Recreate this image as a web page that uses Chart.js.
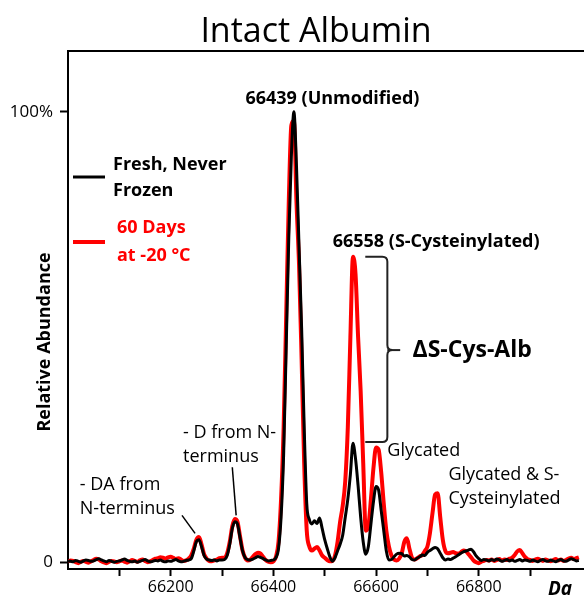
<!DOCTYPE html>
<html><head><meta charset="utf-8">
<script src="https://cdn.jsdelivr.net/npm/chart.js@4.4.1/dist/chart.umd.min.js"></script>
<style>html,body{margin:0;padding:0;background:#fff;overflow:hidden}#wrap{width:584px;height:600px;position:relative}</style>
</head><body><div id="wrap"><canvas id="c"></canvas></div>
<script>
// ---- Data (mass in Da, relative abundance in %) ----
const massDa = [
66000,66005,66010,66015,66020,66025,66030,66035,66040,66045,66050,66055,66060,66065,66070,66075,66080,66085,66090,66095,
66100,66105,66110,66115,66120,66125,66130,66135,66140,66145,66150,66155,66160,66165,66170,66175,66180,66185,66190,66195,
66200,66205,66210,66215,66220,66225,66230,66235,66240,66245,66250,66255,66260,66265,66270,66275,66280,66285,66290,66295,
66300,66305,66310,66315,66320,66325,66330,66335,66340,66345,66350,66355,66360,66365,66370,66375,66380,66385,66390,66395,
66400,66405,66410,66415,66420,66425,66430,66435,66440,66445,66450,66455,66460,66465,66470,66475,66480,66485,66490,66495,
66500,66505,66510,66515,66520,66525,66530,66535,66540,66545,66550,66555,66560,66565,66570,66575,66580,66585,66590,66595,
66600,66605,66610,66615,66620,66625,66630,66635,66640,66645,66650,66655,66660,66665,66670,66675,66680,66685,66690,66695,
66700,66705,66710,66715,66720,66725,66730,66735,66740,66745,66750,66755,66760,66765,66770,66775,66780,66785,66790,66795,
66800,66805,66810,66815,66820,66825,66830,66835,66840,66845,66850,66855,66860,66865,66870,66875,66880,66885,66890,66895,
66900,66905,66910,66915,66920,66925,66930,66935,66940,66945,66950,66955,66960,66965,66970,66975,66980,66985,66990,66995
];
const freshNeverFrozen = [
0.3,0.2,0.1,0.4,0.2,0.0,0.3,0.5,0.4,0.2,0.3,0.6,0.8,0.5,0.3,0.1,0.4,0.2,0.0,0.2,
0.3,0.5,0.7,0.4,0.2,0.1,0.3,0.0,0.2,0.4,0.6,0.3,0.1,0.2,0.4,0.3,0.5,0.2,0.1,0.3,
0.2,0.4,0.6,0.3,0.1,0.2,0.4,0.5,0.8,2.5,4.6,5.0,3.5,1.5,0.7,0.5,0.4,0.5,0.3,0.5,
0.5,0.6,1.5,4.0,7.5,9.0,8.5,5.5,2.5,1.0,0.6,0.5,0.7,1.0,1.3,1.1,0.8,0.5,0.3,0.4,
0.5,1.0,3.0,10,24,48,72,90,100,88,70,52,30,13,9.5,8.5,9.2,8.6,9.8,7.5,
5.0,3.0,1.2,0.2,1.0,2.5,4.0,6.0,10,14,19.5,26.4,23,17,10,4.5,1.8,3.5,8.5,13.5,
16.8,16,11.5,7,2.5,0.5,0.6,1.2,1.8,2.0,1.9,1.4,1.5,1.2,0.6,0.5,0.9,1.2,1.6,1.5,
2.2,2.6,3.0,3.3,3.0,2.0,1.0,0.5,0.7,0.6,0.9,1.2,1.6,2.0,2.3,2.5,2.7,2.9,2.3,1.4,
0.8,0.4,0.6,0.5,0.3,0.6,0.4,0.7,0.5,0.2,0.4,0.6,0.3,0.5,0.2,0.4,0.6,0.3,0.5,0.4,
0.2,0.5,0.3,0.1,0.4,0.6,0.3,0.2,0.5,0.3,0.1,0.4,0.6,0.3,0.2,0.5,0.8,0.6,0.3,0.4
];
const days60Minus20C = [
0.2,0.4,0.3,0.0,-0.2,0.1,0.3,0.1,-0.1,0.2,0.5,0.8,0.6,0.2,0.0,-0.2,0.1,0.3,0.2,0.0,
0.2,0.4,0.1,-0.1,0.2,0.5,0.3,0.1,0.4,0.6,0.3,0.0,0.2,0.5,0.8,0.9,1.1,1.0,0.8,1.1,
1.2,1.0,0.7,0.9,0.6,0.3,0.4,0.8,1.5,3.0,5.0,5.6,4.0,1.8,0.8,0.3,0.2,0.4,0.6,0.9,
1.0,1.0,2.0,4.5,8.0,9.6,9.0,5.8,2.6,1.0,0.4,0.6,1.2,1.8,2.1,1.9,1.2,0.5,0.1,0.0,
0.2,1.2,4.5,14,30,55,80,97,98,80,66,45,22,7,3.5,2.6,3.0,3.4,2.6,1.5,
1.0,0.5,0.2,0.3,1.5,4.5,9.0,12.5,18,30,50,67.8,64,50,38,22,7,8,14,21,
25.5,25,20,13,7,3.5,1.5,0.6,0.4,0.8,2.0,4.5,5.3,3.0,1.0,0.6,0.9,1.3,1.6,2.5,
3.5,6.5,11,15,15.3,10,5,2.5,2.0,2.1,2.3,2.0,1.9,2.2,2.6,2.4,1.8,1.1,0.4,0.0,
-0.2,0.1,0.3,0.5,0.4,0.6,0.3,0.5,0.7,0.4,0.6,0.5,0.8,1.0,1.6,2.4,2.7,2.0,1.2,0.7,
0.5,0.3,0.6,0.8,0.5,0.3,0.6,0.4,0.2,0.5,0.7,0.4,0.6,0.3,0.5,0.8,1.0,0.7,0.9,1.1
];
const seriesNames = ['Fresh, Never Frozen', '60 Days at -20 \u00B0C'];
const xTickValues = [66100,66200,66300,66400,66500,66600,66700,66800,66900];
const xTickLabels = ['', '66200', '', '66400', '', '66600', '', '66800', ''];
const yTickValues = [0, 100];
const yTickLabels = ['0', '100%'];

// ---- Annotations (in data units) ----
const textNotes = [
  {lines:['66439 (Unmodified)'], x:66515, y:102.9, bold:true, align:'center'},
  {lines:['66558 (S-Cysteinylated)'], x:66717, y:71.1, bold:true, align:'center'},
  {lines:['Glycated'], x:66622, y:24.7, bold:false, align:'left'},
  {lines:['Glycated & S-','Cysteinylated'], x:66741, y:19.3, bold:false, align:'left'},
  {lines:['- D from N-','terminus'], x:66224, y:28.7, bold:false, align:'left'},
  {lines:['- DA from','N-terminus'], x:66023, y:17.1, bold:false, align:'left'}
];
const leaders = [
  {x1:66320, y1:21.1, x2:66327.5, y2:10.4},
  {x1:66222, y1:10.4, x2:66247.5, y2:6.4}
];
const bracket = {x1:66579, xv:66622, xn:66647, yt:67.8, ym:47.1, yb:26.7, label:'\u0394S-Cys-Alb', labelX:66671};

const FONT = "'Open Sans', 'Liberation Sans', sans-serif";
Chart.defaults.font.family = FONT;
Chart.defaults.color = '#000';

const deco = {
  id: 'deco',
  afterDraw(chart) {
    const {ctx, chartArea: a, scales: {x, y}} = chart;
    ctx.save();
    // top border of plot frame
    ctx.strokeStyle = '#000'; ctx.lineWidth = 2;
    ctx.beginPath(); ctx.moveTo(a.left - 1, a.top); ctx.lineTo(a.right, a.top); ctx.stroke();

    // title
    ctx.fillStyle = '#000';
    ctx.font = `34px ${FONT}`;
    ctx.textAlign = 'center'; ctx.textBaseline = 'alphabetic';
    ctx.fillText('Intact Albumin', 316, 42);

    // y-axis title
    ctx.save();
    ctx.translate(45, 342); ctx.rotate(-Math.PI / 2);
    ctx.font = `bold 18px ${FONT}`; ctx.textBaseline = 'middle'; ctx.textAlign = 'center';
    ctx.fillText('Relative Abundance', 0, 0);
    ctx.restore();

    // x unit
    ctx.font = `italic bold 19px ${FONT}`; ctx.textAlign = 'left'; ctx.textBaseline = 'middle';
    ctx.fillText('Da', 548, 590);

    // legend
    ctx.lineWidth = 3; ctx.strokeStyle = '#000';
    ctx.beginPath(); ctx.moveTo(73, 177); ctx.lineTo(105, 177); ctx.stroke();
    ctx.lineWidth = 4; ctx.strokeStyle = '#ff0000';
    ctx.beginPath(); ctx.moveTo(73, 242); ctx.lineTo(105, 242); ctx.stroke();
    ctx.font = `bold 18px ${FONT}`; ctx.textAlign = 'left'; ctx.textBaseline = 'middle';
    ctx.fillStyle = '#000';
    ctx.fillText('Fresh, Never', 113, 165);
    ctx.fillText('Frozen', 113, 191);
    ctx.fillStyle = '#ff0000';
    ctx.fillText('60 Days', 117, 228);
    ctx.fillText('at -20 \u00B0C', 117, 256);

    // text notes
    ctx.fillStyle = '#000';
    textNotes.forEach(n => {
      ctx.font = (n.bold ? 'bold ' : '') + `18px ${FONT}`;
      ctx.textAlign = n.align; ctx.textBaseline = 'middle';
      const px = x.getPixelForValue(n.x), py = y.getPixelForValue(n.y);
      n.lines.forEach((t, i) => ctx.fillText(t, px, py + i * 24));
    });

    // leader lines
    ctx.strokeStyle = '#000'; ctx.lineWidth = 1.5;
    leaders.forEach(l => {
      ctx.beginPath();
      ctx.moveTo(x.getPixelForValue(l.x1), y.getPixelForValue(l.y1));
      ctx.lineTo(x.getPixelForValue(l.x2), y.getPixelForValue(l.y2));
      ctx.stroke();
    });

    // bracket
    const bx1 = x.getPixelForValue(bracket.x1), bxv = x.getPixelForValue(bracket.xv), bxn = x.getPixelForValue(bracket.xn);
    const byt = y.getPixelForValue(bracket.yt), bym = y.getPixelForValue(bracket.ym), byb = y.getPixelForValue(bracket.yb);
    const r = 5;
    ctx.strokeStyle = '#222'; ctx.lineWidth = 2;
    ctx.beginPath();
    ctx.moveTo(bx1, byt); ctx.lineTo(bxv - r, byt); ctx.quadraticCurveTo(bxv, byt, bxv, byt + r);
    ctx.lineTo(bxv, bym - r); ctx.quadraticCurveTo(bxv, bym, bxv + r, bym);
    ctx.quadraticCurveTo(bxv, bym, bxv, bym + r);
    ctx.lineTo(bxv, byb - r); ctx.quadraticCurveTo(bxv, byb, bxv - r, byb); ctx.lineTo(bx1, byb);
    ctx.stroke();
    ctx.beginPath(); ctx.moveTo(bxv, bym); ctx.lineTo(bxn, bym); ctx.stroke();
    ctx.fillStyle = '#000';
    ctx.font = `bold 23px ${FONT}`; ctx.textAlign = 'left'; ctx.textBaseline = 'middle';
    ctx.fillText(bracket.label, x.getPixelForValue(bracket.labelX), bym);
    ctx.restore();
  }
};

const toXY = arr => arr.map((v, i) => ({x: massDa[i], y: v}));

new Chart(document.getElementById('c'), {
  type: 'line',
  data: {
    datasets: [
      {label: seriesNames[0], data: toXY(freshNeverFrozen), borderColor: '#000', borderWidth: 3,
       pointRadius: 0, cubicInterpolationMode: 'monotone', order: 0},
      {label: seriesNames[1], data: toXY(days60Minus20C), borderColor: '#ff0000', borderWidth: 4,
       pointRadius: 0, cubicInterpolationMode: 'monotone', order: 1}
    ]
  },
  options: {
    responsive: true, maintainAspectRatio: false, animation: false,
    layout: {padding: {top: 51, left: 0, right: 0, bottom: 0}},
    plugins: {legend: {display: false}, title: {display: false}, tooltip: {enabled: false}},
    scales: {
      x: {
        type: 'linear', min: 66000, max: 67005,
        border: {display: true, color: '#000', width: 2},
        grid: {display: true, drawOnChartArea: false, drawTicks: true, tickLength: 7, tickColor: '#000', tickWidth: 2},
        afterBuildTicks: s => { s.ticks = xTickValues.map(v => ({value: v})); },
        afterFit: s => { s.height = 31; },
        ticks: {autoSkip: false, maxRotation: 0, padding: 2, color: '#000', font: {size: 16},
                callback: v => xTickLabels[xTickValues.indexOf(v)] ?? ''}
      },
      y: {
        min: -1.5, max: 113.5,
        border: {display: true, color: '#000', width: 2},
        grid: {display: true, drawOnChartArea: false, drawTicks: true, tickLength: 8, tickColor: '#000', tickWidth: 2},
        afterBuildTicks: s => { s.ticks = yTickValues.map(v => ({value: v})); },
        afterFit: s => { s.width = 68; },
        ticks: {padding: 7, color: '#000', font: {size: 17},
                callback: v => yTickLabels[yTickValues.indexOf(v)] ?? ''}
      }
    }
  },
  plugins: [deco]
});
</script>
</body></html>
